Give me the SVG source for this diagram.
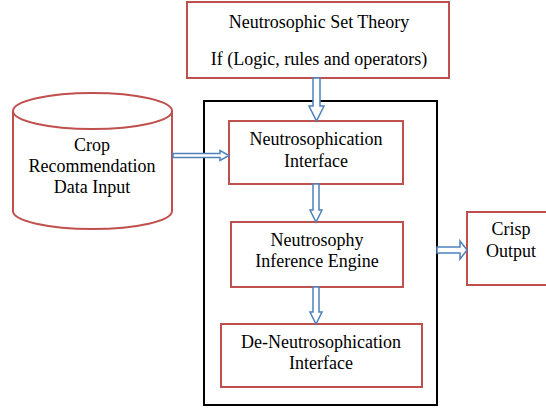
<svg xmlns="http://www.w3.org/2000/svg" width="546" height="408" viewBox="0 0 546 408">
<style>
.box{fill:#fff;stroke:#c0504d;stroke-width:2}
.frame{fill:none;stroke:#000;stroke-width:2}
.arr{fill:#fff;stroke:#4f81bd;stroke-width:1.5;stroke-linejoin:miter}
.t{font-size:18px;fill:#000;text-anchor:middle}
</style>
<rect width="546" height="408" fill="#fff"/>
<g id="frame"><rect class="frame" x="204" y="101" width="233" height="304"/></g>
<g font-family="Liberation Serif, Times New Roman, serif">
<g id="theory">
<rect class="box" x="187" y="2" width="262" height="76"/>
<text class="t" x="319" y="28">Neutrosophic Set Theory</text>
<text class="t" x="319" y="65">If (Logic, rules and operators)</text>
</g>
<g id="crop">
<path class="box" d="M13,111 L13,211 A79.5,18 0 0 0 172,211 L172,111 A79.5,18 0 0 0 13,111 Z"/>
<path class="box" d="M13,111 A79.5,18 0 0 0 172,111"/>
<text class="t" x="92" y="151">Crop</text>
<text class="t" x="92" y="172">Recommendation</text>
<text class="t" x="92" y="193">Data Input</text>
</g>
<g id="neutrosophication">
<rect class="box" x="229" y="121" width="174" height="63"/>
<text class="t" x="316" y="145">Neutrosophication</text>
<text class="t" x="316" y="167">Interface</text>
</g>
<g id="inference">
<rect class="box" x="231" y="222" width="172" height="65"/>
<text class="t" x="317" y="246">Neutrosophy</text>
<text class="t" x="317" y="267">Inference Engine</text>
</g>
<g id="deneutro">
<rect class="box" x="221" y="324" width="201" height="63"/>
<text class="t" x="321" y="348">De-Neutrosophication</text>
<text class="t" x="321" y="369">Interface</text>
</g>
<g id="crisp">
<rect class="box" x="467" y="212" width="82" height="73"/>
<text class="t" x="511" y="235">Crisp</text>
<text class="t" x="511" y="257">Output</text>
</g>
</g>
<g id="connectors">
<path class="arr" d="M313,78 L320,78 L320,106 L324,106 L316.5,121 L309,106 L313,106 Z"/>
<path class="arr" d="M173,153.5 L220,153.5 L220,150.5 L229,155.5 L220,160.5 L220,157.5 L173,157.5 Z"/>
<path class="arr" d="M313,184 L319,184 L319,210 L322,210 L316,222 L310,210 L313,210 Z"/>
<path class="arr" d="M313,287 L319,287 L319,312 L322,312 L316,324 L310,312 L313,312 Z"/>
<path class="arr" d="M437,247 L460,247 L460,241 L467,250 L460,259 L460,253 L437,253 Z"/>
</g>
</svg>
